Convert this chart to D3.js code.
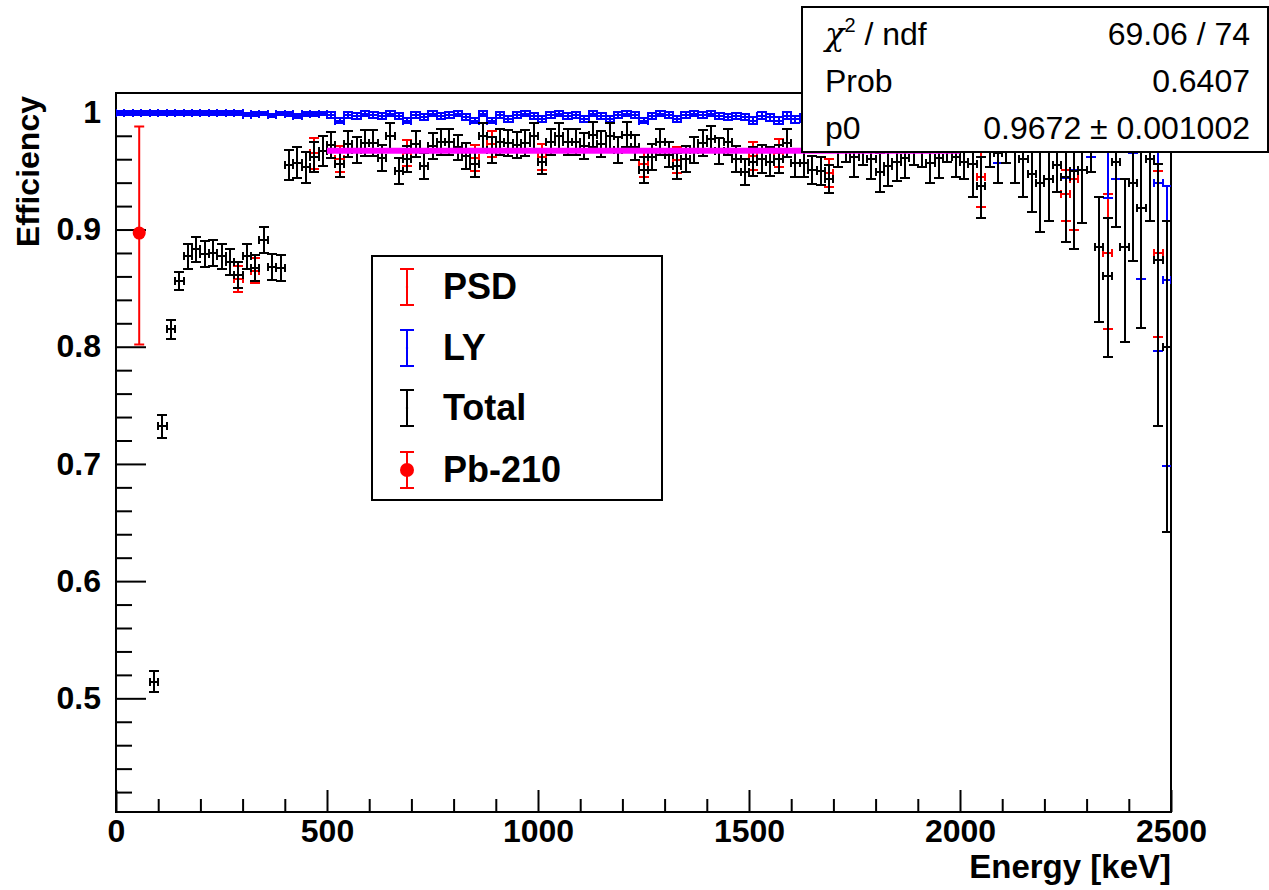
<!DOCTYPE html>
<html><head><meta charset="utf-8">
<script src="https://cdn.jsdelivr.net/npm/d3@7"></script>
<style>
body{margin:0;background:#fff}
svg{display:block}
text{font-family:"Liberation Sans",Arial,Helvetica,sans-serif}
</style>
</head><body>
<svg id="chart" width="1269" height="890"></svg>
<script>
// ---------------- data ----------------
const binWidth = 20;                 // keV
const totalFirstCenter = 90;         // keV, centre of first "Total"/"PSD" bin
const lyFirstCenter = 10;            // keV, centre of first "LY" bin

const totalEff = [
 0.514,0.732,0.815,0.856,0.877,0.883,0.879,0.880,0.877,0.872,0.861,0.877,0.867,0.891,0.868,0.867,
 0.955,0.957,0.953,0.962,0.967,
 0.972,0.956,0.973,0.968,0.974,0.974,0.961,0.980,0.950,0.960,0.973,0.954,0.971,0.975,0.975,0.970,0.963,0.956,0.980,0.968,0.975,0.974,0.972,0.974,0.980,
 0.958,0.975,0.980,0.975,0.975,0.971,0.981,0.973,0.980,0.968,0.981,0.970,0.951,0.962,0.975,0.964,0.954,0.960,0.968,0.974,0.977,0.967,0.975,0.960,0.949,
 0.958,0.960,0.958,0.960,0.974,0.957,0.957,0.951,0.950,0.943,0.970,0.975,0.962,0.972,0.960,0.949,0.954,0.958,0.961,0.972,0.970,0.957,0.961,0.975,0.962,
 0.958,0.956,0.937,0.975,0.965,0.982,0.970,0.960,0.947,0.940,0.943,0.955,0.945,0.950,0.951,0.975,0.885,0.860,0.958,0.885,0.940,0.918,0.960,0.874,0.800
];
const totalErrLo = [
 0.009,0.010,0.008,0.008,0.011,0.011,0.011,0.011,0.011,0.011,0.011,0.011,0.011,0.011,0.011,0.011,
 0.013,0.013,0.013,0.013,0.013,
 0.011,0.011,0.011,0.011,0.011,0.011,0.011,0.011,0.011,0.011,0.011,0.011,0.011,0.011,0.011,0.011,0.011,0.011,0.011,0.011,0.011,0.011,0.011,0.011,0.011,
 0.011,0.011,0.011,0.011,0.011,0.011,0.011,0.011,0.011,0.011,0.011,0.011,0.011,0.011,0.011,0.011,0.011,0.011,0.011,0.011,0.011,0.011,0.011,0.011,0.011,
 0.012,0.012,0.012,0.012,0.012,0.012,0.012,0.012,0.012,0.012,0.017,0.017,0.017,0.017,0.017,0.017,0.017,0.017,0.017,0.017,0.017,0.017,0.017,0.017,0.017,
 0.015,0.028,0.027,0.022,0.025,0.025,0.030,0.032,0.032,0.042,0.036,0.023,0.056,0.067,0.045,0.026,0.064,0.069,0.056,0.081,0.067,0.102,0.053,0.142,0.158
];
const totalErrHi = [
 0.009,0.010,0.008,0.008,0.011,0.011,0.011,0.011,0.011,0.011,0.011,0.011,0.011,0.011,0.011,0.011,
 0.013,0.013,0.013,0.013,0.013,
 0.011,0.011,0.011,0.011,0.011,0.011,0.011,0.011,0.011,0.011,0.011,0.011,0.011,0.011,0.011,0.011,0.011,0.011,0.011,0.011,0.011,0.011,0.011,0.011,0.011,
 0.011,0.011,0.011,0.011,0.011,0.011,0.011,0.011,0.011,0.011,0.011,0.011,0.011,0.011,0.011,0.011,0.011,0.011,0.011,0.011,0.011,0.011,0.011,0.011,0.011,
 0.012,0.012,0.012,0.012,0.012,0.012,0.012,0.012,0.012,0.012,0.016,0.016,0.016,0.016,0.016,0.016,0.016,0.016,0.016,0.016,0.016,0.016,0.016,0.016,0.016,
 0.015,0.025,0.025,0.020,0.020,0.015,0.025,0.028,0.030,0.030,0.030,0.025,0.045,0.040,0.035,0.020,0.043,0.050,0.035,0.058,0.050,0.065,0.035,0.082,0.107
];

// PSD mostly coincides with Total (hidden underneath); it shows where they differ
const psdEff = [
 0.514,0.732,0.815,0.856,0.877,0.883,0.879,0.880,0.877,0.872,0.858,0.877,0.865,0.891,0.868,0.867,
 0.955,0.957,0.953,0.965,0.967,
 0.972,0.960,0.973,0.968,0.974,0.974,0.961,0.980,0.950,0.965,0.973,0.954,0.971,0.975,0.975,0.970,0.963,0.961,0.980,0.973,0.975,0.974,0.972,0.974,0.980,
 0.962,0.975,0.980,0.975,0.975,0.971,0.981,0.973,0.980,0.968,0.981,0.970,0.956,0.962,0.975,0.964,0.959,0.960,0.968,0.974,0.977,0.967,0.975,0.960,0.949,
 0.963,0.960,0.958,0.965,0.974,0.957,0.957,0.951,0.950,0.948,0.970,0.975,0.962,0.972,0.960,0.949,0.954,0.958,0.961,0.972,0.970,0.957,0.961,0.975,0.962,
 0.958,0.956,0.945,0.975,0.965,0.982,0.970,0.960,0.947,0.940,0.943,0.955,0.930,0.943,0.951,0.975,0.885,0.880,0.958,0.885,0.940,0.918,0.960,0.880,0.800
];
const psdErrLo = [
 0.009,0.010,0.008,0.008,0.011,0.011,0.011,0.011,0.011,0.011,0.011,0.011,0.011,0.011,0.011,0.011,
 0.013,0.013,0.013,0.013,0.013,
 0.011,0.011,0.011,0.011,0.011,0.011,0.011,0.011,0.011,0.011,0.011,0.011,0.011,0.011,0.011,0.011,0.011,0.011,0.011,0.011,0.011,0.011,0.011,0.011,0.011,
 0.011,0.011,0.011,0.011,0.011,0.011,0.011,0.011,0.011,0.011,0.011,0.011,0.011,0.011,0.011,0.011,0.011,0.011,0.011,0.011,0.011,0.011,0.011,0.011,0.011,
 0.012,0.012,0.012,0.012,0.012,0.012,0.012,0.012,0.012,0.012,0.017,0.017,0.017,0.017,0.017,0.017,0.017,0.017,0.017,0.017,0.017,0.017,0.017,0.017,0.017,
 0.015,0.028,0.026,0.022,0.025,0.025,0.030,0.032,0.032,0.042,0.036,0.023,0.023,0.043,0.045,0.026,0.064,0.065,0.056,0.081,0.067,0.102,0.053,0.072,0.158
];
const psdErrHi = [
 0.009,0.010,0.008,0.008,0.011,0.011,0.011,0.011,0.011,0.011,0.011,0.011,0.011,0.011,0.011,0.011,
 0.013,0.013,0.013,0.013,0.013,
 0.011,0.011,0.011,0.011,0.011,0.011,0.011,0.011,0.011,0.011,0.011,0.011,0.011,0.011,0.011,0.011,0.011,0.011,0.011,0.011,0.011,0.011,0.011,0.011,0.011,
 0.011,0.011,0.011,0.011,0.011,0.011,0.011,0.011,0.011,0.011,0.011,0.011,0.011,0.011,0.011,0.011,0.011,0.011,0.011,0.011,0.011,0.011,0.011,0.011,0.011,
 0.012,0.012,0.012,0.012,0.012,0.012,0.012,0.012,0.012,0.012,0.016,0.016,0.016,0.016,0.016,0.016,0.016,0.016,0.016,0.016,0.016,0.016,0.016,0.016,0.016,
 0.015,0.025,0.025,0.020,0.020,0.015,0.025,0.028,0.030,0.030,0.030,0.025,0.021,0.035,0.035,0.020,0.043,0.050,0.035,0.058,0.050,0.065,0.035,0.070,0.107
];

const lyEff = [
 0.9995,0.9995,0.9995,0.9995,0.9995,0.9995,0.9995,0.9995,0.9995,0.9995,0.9993,0.9995,0.9993,0.9995,0.9993,0.998,0.9985,0.999,0.9975,0.999,0.9985,0.997,0.9985,0.9985,0.999,
 0.998,0.993,0.998,0.997,0.999,0.998,0.997,0.999,0.997,0.993,0.998,0.996,0.999,0.997,0.998,0.999,0.996,0.993,0.999,0.993,0.998,0.994,0.998,0.999,0.997,
 0.994,0.998,0.999,0.997,0.998,0.994,0.999,0.997,0.994,0.998,0.999,0.998,0.993,0.997,0.999,0.998,0.994,0.998,0.999,0.998,0.999,0.997,0.996,0.997,0.996,
 0.993,0.997,0.996,0.993,0.997,0.994,0.996,0.997,0.996,0.994,0.997,0.996,0.998,0.995,0.997,0.996,0.998,0.995,0.997,0.996,0.998,0.995,0.997,0.996,0.995,
 0.998,0.997,0.995,0.998,0.985,0.996,0.993,0.996,0.990,0.992,0.990,0.995,0.990,0.985,0.990,0.985,0.990,0.975,0.985,0.990,0.985,0.918,0.990,0.940,0.857
];
const lyErrLo = [
 0.0015,0.0015,0.0015,0.0015,0.0015,0.0015,0.0015,0.0015,0.0015,0.0015,0.0015,0.0015,0.0015,0.0015,0.0015,0.0015,0.0015,0.0015,0.0015,0.0015,0.0015,0.0015,0.0015,0.0015,0.0015,
 0.0025,0.0025,0.0025,0.0025,0.0025,0.0025,0.0025,0.0025,0.0025,0.0025,0.0025,0.0025,0.0025,0.0025,0.0025,0.0025,0.0025,0.0025,0.0025,0.0025,0.0025,0.0025,0.0025,0.0025,0.0025,
 0.0025,0.0025,0.0025,0.0025,0.0025,0.0025,0.0025,0.0025,0.0025,0.0025,0.0025,0.0025,0.0025,0.0025,0.0025,0.0025,0.0025,0.0025,0.0025,0.0025,0.0025,0.0025,0.0025,0.0025,0.0025,
 0.003,0.003,0.003,0.003,0.003,0.003,0.003,0.003,0.003,0.003,0.003,0.003,0.003,0.003,0.003,0.003,0.003,0.003,0.003,0.003,0.003,0.003,0.003,0.003,0.003,
 0.004,0.005,0.006,0.004,0.028,0.006,0.008,0.006,0.010,0.009,0.010,0.007,0.046,0.034,0.010,0.023,0.012,0.048,0.042,0.012,0.020,0.060,0.012,0.144,0.159
];
const lyErrHi = [
 0.0015,0.0015,0.0015,0.0015,0.0015,0.0015,0.0015,0.0015,0.0015,0.0015,0.0015,0.0015,0.0015,0.0015,0.0015,0.0015,0.0015,0.0015,0.0015,0.0015,0.0015,0.0015,0.0015,0.0015,0.0015,
 0.0025,0.0025,0.0025,0.0025,0.0025,0.0025,0.0025,0.0025,0.0025,0.0025,0.0025,0.0025,0.0025,0.0025,0.0025,0.0025,0.0025,0.0025,0.0025,0.0025,0.0025,0.0025,0.0025,0.0025,0.0025,
 0.0025,0.0025,0.0025,0.0025,0.0025,0.0025,0.0025,0.0025,0.0025,0.0025,0.0025,0.0025,0.0025,0.0025,0.0025,0.0025,0.0025,0.0025,0.0025,0.0025,0.0025,0.0025,0.0025,0.0025,0.0025,
 0.003,0.003,0.003,0.003,0.003,0.003,0.003,0.003,0.003,0.003,0.003,0.003,0.003,0.003,0.003,0.003,0.003,0.003,0.003,0.003,0.003,0.003,0.003,0.003,0.003,
 0.002,0.003,0.005,0.002,0.010,0.004,0.007,0.004,0.010,0.008,0.010,0.005,0.010,0.012,0.010,0.012,0.010,0.020,0.012,0.010,0.012,0.050,0.010,0.050,0.080
];

const pb210Energy = 55;
const pb210Eff = 0.897;
const pb210ErrLo = 0.095;
const pb210ErrHi = 0.091;

const fitP0 = 0.9672;
const fitRange = [500, 2000];

const xTicks = [0, 500, 1000, 1500, 2000, 2500];
const yTicks = [0.5, 0.6, 0.7, 0.8, 0.9, 1];
const xDomain = [0, 2500];
const yDomain = [0.403, 1.0165];

const legendLabels = ["PSD", "LY", "Total", "Pb-210"];
const statsLabels = ["ndf", "Prob", "p0"];
const statsValues = ["69.06 / 74", "0.6407", "0.9672 \u00B1 0.001002"];

// ---------------- drawing ----------------
const svg = d3.select("#chart");
const W = 1269, H = 890;
svg.append("rect").attr("width", W).attr("height", H).attr("fill", "#fff");

const plot = {left: 116, right: 1171, top: 93, bottom: 812};
const x = d3.scaleLinear().domain(xDomain).range([plot.left, plot.right]);
const y = d3.scaleLinear().domain(yDomain).range([plot.bottom, plot.top]);

svg.append("defs").append("clipPath").attr("id", "clip")
  .append("rect").attr("x", plot.left).attr("y", plot.top)
  .attr("width", plot.right - plot.left).attr("height", plot.bottom - plot.top);

// axes: minor ticks
const yMinor = d3.range(0.42, 1.0165, 0.02).filter(v => Math.abs(v * 10 - Math.round(v * 10)) > 1e-6);
const xMinor = d3.range(100, 2500, 100).filter(v => v % 500 !== 0);

const axG = svg.append("g");
axG.append("g").attr("transform", `translate(${plot.left},0)`)
  .call(d3.axisLeft(y).tickValues(yMinor).tickSize(-16).tickFormat(""))
  .call(g => g.select(".domain").remove());
axG.append("g").attr("transform", `translate(${plot.left},0)`)
  .call(d3.axisLeft(y).tickValues(yTicks).tickSize(-30).tickPadding(15).tickFormat(d3.format("")))
  .call(g => g.select(".domain").remove());
axG.append("g").attr("transform", `translate(0,${plot.bottom})`)
  .call(d3.axisBottom(x).tickValues(xMinor).tickSize(-13).tickFormat(""))
  .call(g => g.select(".domain").remove());
axG.append("g").attr("transform", `translate(0,${plot.bottom})`)
  .call(d3.axisBottom(x).tickValues(xTicks).tickSize(-22).tickPadding(7).tickFormat(d3.format("")))
  .call(g => g.select(".domain").remove());
axG.selectAll(".tick line").attr("stroke", "#000").attr("stroke-width", 2);
axG.selectAll(".tick text").attr("fill", "#000").attr("font-size", 32).attr("font-weight", "bold")
  .attr("font-family", "'Liberation Sans',Arial,sans-serif");

// frame
svg.append("rect").attr("x", plot.left).attr("y", plot.top)
  .attr("width", plot.right - plot.left).attr("height", plot.bottom - plot.top)
  .attr("fill", "none").attr("stroke", "#000").attr("stroke-width", 2);

// axis titles
svg.append("text").attr("x", plot.right).attr("y", 878).attr("text-anchor", "end")
  .attr("font-size", 33).attr("font-weight", "bold").text("Energy [keV]");
svg.append("text").attr("transform", `translate(39,${plot.top + 3}) rotate(-90)`)
  .attr("text-anchor", "end").attr("font-size", 32).attr("font-weight", "bold").text("Efficiency");

// error-bar series
const dataG = svg.append("g").attr("clip-path", "url(#clip)");
function drawSeries(firstCenter, vals, lo, hi, color) {
  const pts = vals.map((v, i) => {
    const e = firstCenter + i * binWidth;
    return {e, v, lo: lo[i], hi: hi[i]};
  });
  const g = dataG.append("g").attr("stroke", color).attr("stroke-width", 2).attr("fill", "none")
    .attr("shape-rendering", "crispEdges");
  g.selectAll("path.pt").data(pts).join("path").attr("class", "pt").attr("d", d => {
    const cx = Math.round(x(d.e)), cy = Math.round(y(d.v));
    const xl = Math.round(x(d.e - binWidth / 2)), xr = Math.round(x(d.e + binWidth / 2));
    const yt = Math.round(y(d.v + d.hi)), yb = Math.round(y(d.v - d.lo));
    return `M${xl},${cy}H${xr}` +
      `M${xl},${cy - 4}V${cy + 4}M${xr},${cy - 4}V${cy + 4}` +
      `M${cx},${yt}V${yb}` +
      `M${cx - 5},${yt}H${cx + 5}M${cx - 5},${yb}H${cx + 5}`;
  });
}
drawSeries(totalFirstCenter, psdEff, psdErrLo, psdErrHi, "#ff0000");
drawSeries(lyFirstCenter, lyEff, lyErrLo, lyErrHi, "#0000ff");
drawSeries(totalFirstCenter, totalEff, totalErrLo, totalErrHi, "#000000");

// Pb-210 point
const pbG = dataG.append("g");
pbG.append("path").attr("stroke", "#ff0000").attr("stroke-width", 2).attr("fill", "none")
  .attr("d", () => {
    const cx = x(pb210Energy), yt = y(pb210Eff + pb210ErrHi), yb = y(pb210Eff - pb210ErrLo);
    return `M${cx},${yt}V${yb}M${cx - 5},${yt}H${cx + 5}M${cx - 5},${yb}H${cx + 5}`;
  });
pbG.append("circle").attr("cx", x(pb210Energy)).attr("cy", y(pb210Eff)).attr("r", 6.5).attr("fill", "#ff0000");

// fit line
dataG.append("line").attr("x1", x(fitRange[0])).attr("x2", x(fitRange[1]))
  .attr("y1", y(fitP0)).attr("y2", y(fitP0))
  .attr("stroke", "#ff00ff").attr("stroke-width", 6);

// legend
const leg = svg.append("g");
leg.append("rect").attr("x", 372).attr("y", 256).attr("width", 290).attr("height", 244)
  .attr("fill", "#fff").attr("stroke", "#000").attr("stroke-width", 2);
const legColors = ["#ff0000", "#0000ff", "#000000", "#ff0000"];
const legY = [287, 348, 408, 470];
legendLabels.forEach((lab, i) => {
  const cx = 407, cy = legY[i];
  leg.append("path").attr("stroke", legColors[i]).attr("stroke-width", 2).attr("fill", "none")
    .attr("d", `M${cx},${cy - 18}V${cy + 18}M${cx - 7},${cy - 18}H${cx + 7}M${cx - 7},${cy + 18}H${cx + 7}`);
  if (i === 3) leg.append("circle").attr("cx", cx).attr("cy", cy).attr("r", 7).attr("fill", "#ff0000");
  else leg.append("circle").attr("cx", cx).attr("cy", cy).attr("r", 1.2).attr("fill", legColors[i]);
  leg.append("text").attr("x", 443).attr("y", cy + 12).attr("font-size", 36).attr("font-weight", "bold")
    .attr("fill", "#000").text(lab);
});

// stats box
const st = svg.append("g");
st.append("rect").attr("x", 802).attr("y", 7).attr("width", 466).attr("height", 145)
  .attr("fill", "#fff").attr("stroke", "#000").attr("stroke-width", 2);
const stBase = [45, 92, 139];
const t0 = st.append("text").attr("x", 825).attr("y", stBase[0]).attr("font-size", 32).attr("fill", "#000");
t0.append("tspan").attr("font-family", "'DejaVu Serif',serif").attr("font-style", "italic").text("\u03C7");
t0.append("tspan").attr("font-size", 20).attr("dy", -13).text("2");
t0.append("tspan").attr("dy", 13).text(" / " + statsLabels[0]);
st.append("text").attr("x", 825).attr("y", stBase[1]).attr("font-size", 32).text(statsLabels[1]);
st.append("text").attr("x", 825).attr("y", stBase[2]).attr("font-size", 32).text(statsLabels[2]);
statsValues.forEach((v, i) => {
  st.append("text").attr("x", 1250).attr("y", stBase[i]).attr("text-anchor", "end")
    .attr("font-size", 32).attr("fill", "#000").text(v);
});
</script>
</body></html>
